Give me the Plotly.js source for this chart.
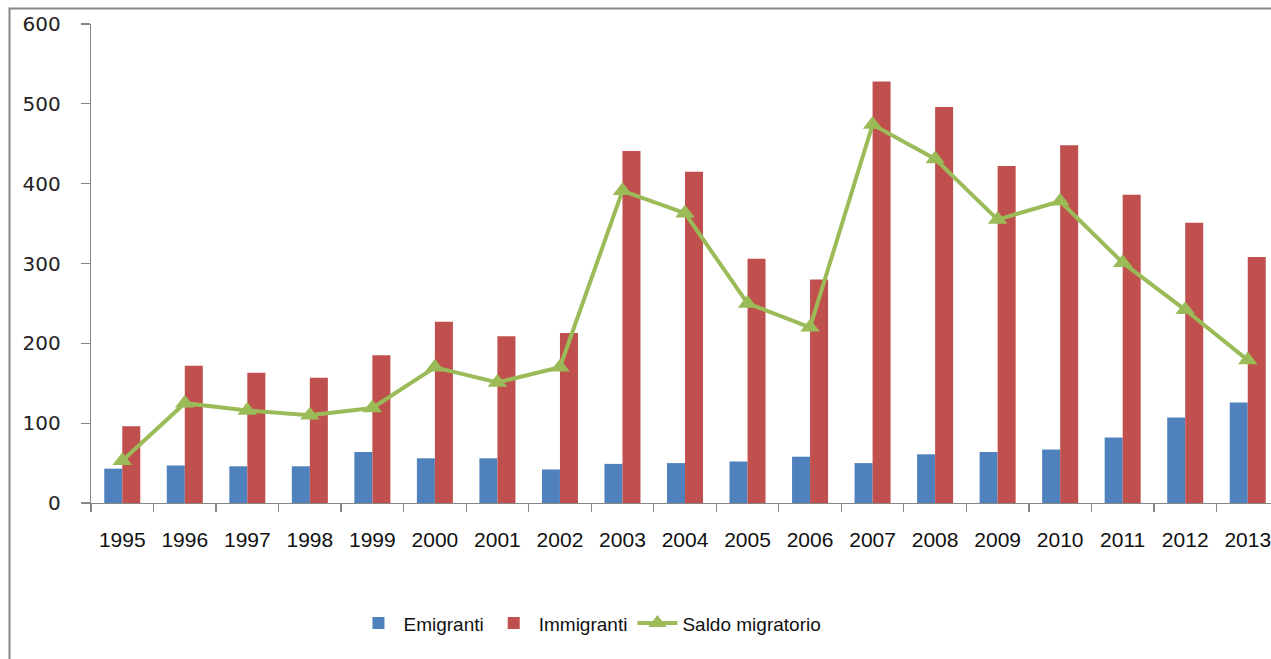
<!DOCTYPE html>
<html>
<head>
<meta charset="utf-8">
<script src="https://cdn.plot.ly/plotly-3.0.1.min.js"></script>
<style>
  html, body { margin: 0; padding: 0; overflow: hidden; background: #ffffff; }
  #chart { width: 1290px; height: 659px; }
</style>
</head>
<body>
<div id="chart"></div>
<script>
const years = ["1995","1996","1997","1998","1999","2000","2001","2002","2003","2004","2005","2006","2007","2008","2009","2010","2011","2012","2013"];
const emigranti = [43, 47, 46, 46, 64, 56, 56, 42, 49, 50, 52, 58, 50, 61, 64, 67, 82, 107, 126];
const immigranti = [96, 172, 163, 157, 185, 227, 209, 213, 441, 415, 306, 280, 528, 496, 422, 448, 386, 351, 308];
const saldo = [53, 125, 116, 110, 119, 170, 151, 170, 391, 363, 250, 220, 474, 431, 355, 378, 301, 242, 179];
const yTicks = [0, 100, 200, 300, 400, 500, 600];

const traces = [
  { type: 'bar', name: 'Emigranti', x: years, y: emigranti, marker: { color: '#4F81BD' } },
  { type: 'bar', name: 'Immigranti', x: years, y: immigranti, marker: { color: '#C0504D' } },
  { type: 'scatter', mode: 'lines+markers', name: 'Saldo migratorio', x: years, y: saldo,
    line: { color: '#9BBB59', width: 4 },
    marker: { symbol: 'triangle-up', size: 17, color: '#9BBB59' } }
];

const layout = {
  width: 1290, height: 659,
  margin: { l: 91, r: 11.4, t: 24, b: 156.3 },
  paper_bgcolor: 'rgba(0,0,0,0)', plot_bgcolor: 'rgba(0,0,0,0)',
  barmode: 'group', bargap: 0.424, bargroupgap: 0,
  showlegend: true,
  legend: { orientation: 'h', x: 0.42, xanchor: 'center', y: -0.251, yanchor: 'middle',
            font: { family: 'Liberation Sans, Arial, sans-serif', size: 19, color: '#111' },
            itemwidth: 40, traceorder: 'normal' },
  xaxis: {
    type: 'category', range: [-0.5, 18.5],
    showline: true, linecolor: '#868686', linewidth: 1.3,
    ticks: 'outside', tickson: 'boundaries', ticklen: 8, tickcolor: '#868686', tickwidth: 1.3,
    showgrid: false, zeroline: false,
    tickfont: { family: 'Liberation Sans, Arial, sans-serif', size: 21, color: '#111' },
    ticklabelstandoff: 17
  },
  yaxis: {
    range: [0, 600], tickvals: yTicks, ticktext: yTicks.map(String),
    showline: true, linecolor: '#868686', linewidth: 1.3,
    ticks: 'outside', ticklen: 9, tickcolor: '#868686', tickwidth: 1.3,
    showgrid: false, zeroline: false,
    tickfont: { family: 'DejaVu Sans, Verdana, sans-serif', size: 20, color: '#222' },
    ticklabelstandoff: 16
  },
  shapes: [
    { type: 'rect', xref: 'paper', yref: 'paper',
      x0: -0.0686, x1: 1.05, y0: -0.4, y1: 1.0324,
      line: { color: '#878787', width: 2 }, fillcolor: 'rgba(0,0,0,0)', layer: 'below' }
  ]
};

Plotly.newPlot('chart', traces, layout, { displayModeBar: false, staticPlot: true });
</script>
</body>
</html>
